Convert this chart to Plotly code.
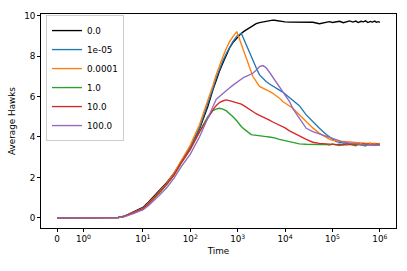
import math
import plotly.graph_objects as go

# ---- data ----
time = [0, 1, 2, 3, 4, 5, 6.5, 8.4, 10, 13, 17.5, 22, 32, 45, 65,
        100, 156, 234, 300, 350, 412, 484, 569, 670, 785, 955, 1097, 1190, 1350, 1513,
        1928, 2080, 2455, 2885, 3390, 3980, 4680, 5500, 5960, 7600, 8900, 10000, 12400, 14600, 17200,
        20000, 27900, 38500, 53000, 74000, 86000,
        100000, 120000, 141000, 170000, 195000, 230000, 270000, 310000, 350000, 400000,
        450000, 500000, 560000, 630000, 700000, 780000, 850000, 920000, 1000000]

hawks_0 = [0, 0, 0, 0.02, 0.08, 0.18, 0.3, 0.44, 0.52, 0.78, 1.1, 1.35, 1.75, 2.2, 2.8,
           3.5, 4.4, 5.5, 6.33, 6.8, 7.25, 7.65, 8.05, 8.39, 8.65, 8.9, 9.05, 9.12, 9.22, 9.29,
           9.45, 9.5, 9.6, 9.65, 9.69, 9.72, 9.75, 9.78, 9.77, 9.72, 9.7, 9.69, 9.68, 9.68, 9.67,
           9.67, 9.68, 9.67, 9.6, 9.65, 9.7,
           9.66, 9.68, 9.72, 9.65, 9.7, 9.74, 9.68, 9.73, 9.66, 9.72,
           9.69, 9.74, 9.66, 9.71, 9.68, 9.73, 9.67, 9.7, 9.67]

hawks_1e5 = [0, 0, 0, 0.02, 0.07, 0.16, 0.28, 0.4, 0.48, 0.72, 1.03, 1.28, 1.7, 2.15, 2.78,
             3.5, 4.45, 5.6, 6.4, 6.9, 7.35, 7.75, 8.1, 8.42, 8.7, 8.98, 9.1, 9.13, 8.83, 8.55,
             7.97, 7.8, 7.42, 7.07, 6.9, 6.74, 6.62, 6.52, 6.48, 6.35, 6.22, 6.12, 5.95, 5.83, 5.68,
             5.55, 5.09, 4.75, 4.43, 4.12, 3.99,
             3.9, 3.77, 3.72, 3.7, 3.7, 3.66, 3.68, 3.64, 3.66, 3.62,
             3.65, 3.6, 3.64, 3.61, 3.63, 3.6, 3.64, 3.6, 3.62]

hawks_1e4 = [0, 0, 0, 0.02, 0.07, 0.16, 0.28, 0.4, 0.47, 0.72, 1.03, 1.28, 1.72, 2.2, 2.85,
             3.6, 4.6, 5.75, 6.55, 7.05, 7.55, 7.95, 8.35, 8.7, 8.95, 9.21, 8.82, 8.6, 8.24, 7.91,
             7.23, 7.0, 6.75, 6.5, 6.42, 6.35, 6.25, 6.16, 6.1, 5.92, 5.75, 5.68, 5.52, 5.42, 5.25,
             5.1, 4.76, 4.45, 4.18, 3.97, 3.89,
             3.84, 3.8, 3.78, 3.78, 3.77, 3.76, 3.74, 3.72, 3.7, 3.71,
             3.69, 3.7, 3.68, 3.7, 3.67, 3.69, 3.66, 3.68, 3.67]

hawks_1 = [0, 0, 0, 0.02, 0.07, 0.15, 0.26, 0.38, 0.45, 0.68, 0.98, 1.22, 1.65, 2.1, 2.72,
           3.38, 4.25, 5.0, 5.3, 5.38, 5.42, 5.38, 5.3, 5.17, 5.01, 4.8, 4.6, 4.52, 4.4, 4.3,
           4.12, 4.1, 4.07, 4.05, 4.04, 4.02, 4.0, 3.98, 3.96, 3.88, 3.84, 3.82, 3.77, 3.72, 3.69,
           3.66, 3.64, 3.62, 3.63, 3.62, 3.6,
           3.65, 3.62, 3.58, 3.64, 3.6, 3.63, 3.61, 3.57, 3.64, 3.62,
           3.6, 3.55, 3.63, 3.6, 3.64, 3.58, 3.62, 3.6, 3.59]

hawks_10 = [0, 0, 0, 0.02, 0.07, 0.16, 0.27, 0.39, 0.46, 0.7, 1.0, 1.25, 1.68, 2.12, 2.75,
            3.4, 4.25, 4.95, 5.34, 5.55, 5.7, 5.78, 5.83, 5.8, 5.75, 5.72, 5.67, 5.62, 5.55, 5.47,
            5.32, 5.28, 5.15, 5.07, 5.0, 4.92, 4.83, 4.74, 4.7, 4.55, 4.5, 4.45, 4.3, 4.2, 4.12,
            4.05, 3.88, 3.74, 3.68, 3.65, 3.63,
            3.65, 3.62, 3.64, 3.6, 3.66, 3.63, 3.65, 3.6, 3.64, 3.62,
            3.67, 3.63, 3.65, 3.61, 3.64, 3.62, 3.66, 3.63, 3.64]

hawks_100 = [0, 0, 0, 0.01, 0.05, 0.12, 0.22, 0.33, 0.4, 0.6, 0.88, 1.1, 1.5, 1.95, 2.55,
             3.15, 4.0, 4.9, 5.5, 5.85, 6.0, 6.15, 6.3, 6.42, 6.55, 6.7, 6.82, 6.88, 6.95, 7.0,
             7.12, 7.15, 7.3, 7.48, 7.53, 7.42, 7.2, 6.95, 6.82, 6.45, 6.2, 6.05, 5.75, 5.4, 5.15,
             4.95, 4.43, 4.27, 4.15, 4.05, 4.0,
             3.94, 3.86, 3.8, 3.75, 3.72, 3.7, 3.68, 3.65, 3.66, 3.63,
             3.64, 3.62, 3.6, 3.63, 3.6, 3.62, 3.59, 3.61, 3.6]

series_names = ["0.0", "1e-05", "0.0001", "1.0", "10.0", "100.0"]
series_values = [hawks_0, hawks_1e5, hawks_1e4, hawks_1, hawks_10, hawks_100]
series_colors = ["#000000", "#1f77b4", "#ff7f0e", "#2ca02c", "#d62728", "#9467bd"]

tick_times = [0, 1, 10, 100, 1000, 10000, 100000, 1000000]
tick_labels = ["0", "10<sup>0</sup>", "10<sup>1</sup>", "10<sup>2</sup>", "10<sup>3</sup>",
               "10<sup>4</sup>", "10<sup>5</sup>", "10<sup>6</sup>"]
y_ticks = [0, 2, 4, 6, 8, 10]

# ---- symlog transform (matplotlib default: linthresh=2, linscale=1) ----
LINTHRESH = 2.0
LINSCALE_ADJ = 1.0 / (1.0 - 1.0 / 10.0)


def symlog(t):
    if abs(t) <= LINTHRESH:
        return t * LINSCALE_ADJ
    return math.copysign(LINTHRESH * (LINSCALE_ADJ + math.log10(abs(t) / LINTHRESH)), t)


xs = [symlog(t) for t in time]
FONT = "DejaVu Sans"
FS = 8.8

fig = go.Figure()
for name, vals, col in zip(series_names, series_values, series_colors):
    fig.add_trace(go.Scatter(x=xs, y=vals, mode="lines", name=name,
                             line=dict(color=col, width=1.35)))

xmax = symlog(max(time))
pad = 0.05 * xmax
fig.update_layout(
    width=407, height=271,
    margin=dict(l=41, r=11, t=14, b=43),
    paper_bgcolor="white", plot_bgcolor="white",
    font=dict(family=FONT, size=FS, color="black"),
    showlegend=True,
    legend=dict(x=0.014, y=0.995, xanchor="left", yanchor="top",
                bgcolor="rgba(255,255,255,0.8)", bordercolor="#cccccc", borderwidth=1,
                font=dict(family=FONT, size=FS, color="black"),
                tracegroupgap=0, itemwidth=30),
    xaxis=dict(range=[-pad, xmax + pad], tickmode="array",
               tickvals=[symlog(t) for t in tick_times], ticktext=tick_labels,
               ticks="outside", ticklen=3, tickwidth=0.8, tickcolor="black",
               showline=True, linecolor="black", linewidth=0.8, mirror=True,
               showgrid=False, zeroline=False,
               title=dict(text="Time", standoff=4, font=dict(family=FONT, size=FS))),
    yaxis=dict(range=[-0.5, 10.08], tickmode="array", tickvals=y_ticks,
               ticktext=[str(v) for v in y_ticks],
               ticks="outside", ticklen=3, tickwidth=0.8, tickcolor="black",
               showline=True, linecolor="black", linewidth=0.8, mirror=True,
               showgrid=False, zeroline=False,
               title=dict(text="Average Hawks", standoff=7, font=dict(family=FONT, size=FS))),
)

fig.write_html("out.html", config={"displayModeBar": False},
               post_script="document.body.style.margin='0';")
